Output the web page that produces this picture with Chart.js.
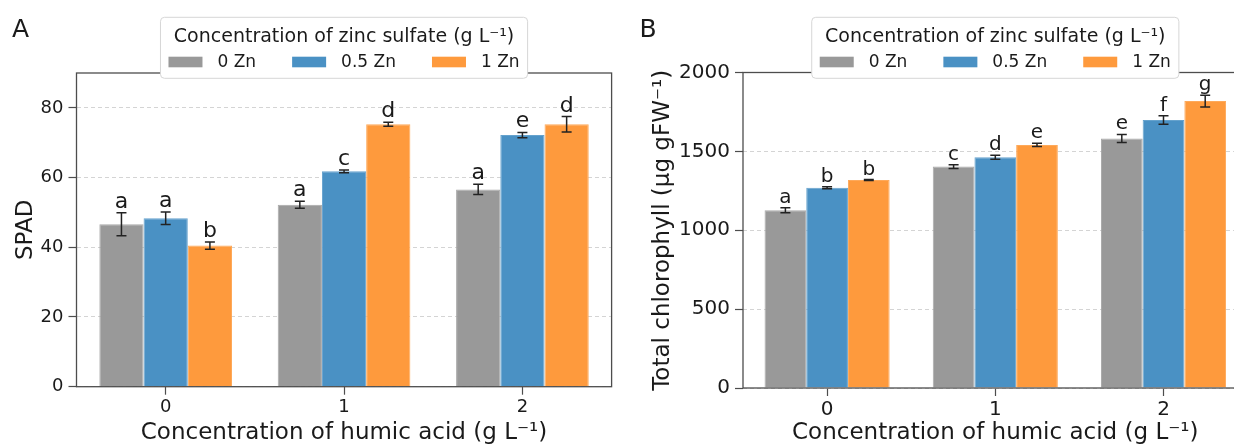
<!DOCTYPE html>
<html>
<head>
<meta charset="utf-8">
<script src="https://cdn.jsdelivr.net/npm/chart.js@4.4.1/dist/chart.umd.min.js"></script>
<style>
  html, body { margin: 0; padding: 0; background: #fff; overflow: hidden; }
  body { width: 1234px; height: 446px; position: relative; }
  .panel { position: absolute; top: 0; }
</style>
</head>
<body>
<div class="panel" style="left:0px"><canvas id="spadChart" width="617" height="446"></canvas></div>
<div class="panel" style="left:617px"><canvas id="chlChart" width="640" height="446"></canvas></div>
<script>
// humic acid levels (x categories) and zinc sulfate series
const humicLevels = ['0', '1', '2'];
const zincLabels = ['0 Zn', '0.5 Zn', '1 Zn'];
const zincColors = ['#999999', '#4a91c4', '#fe9a3d'];
const zincEdges = ['#a8a8a8', '#65a2cd', '#fea95a'];
const legendTitle = 'Concentration of zinc sulfate (g L\u207B\u00B9)';
const xTitle = 'Concentration of humic acid (g L\u207B\u00B9)';

// panel A: SPAD
const spad0Zn = [46.6, 52.2, 56.6];
const spad05Zn = [48.3, 61.8, 72.2];
const spad1Zn = [40.5, 75.3, 75.3];
const spadErr0Zn = [3.3, 1.0, 1.45];
const spadErr05Zn = [1.8, 0.4, 0.75];
const spadErr1Zn = [1.05, 0.6, 2.2];
const spadLetters0Zn = ['a', 'a', 'a'];
const spadLetters05Zn = ['a', 'c', 'e'];
const spadLetters1Zn = ['b', 'd', 'd'];
const spadTicks = [0, 20, 40, 60, 80];

// panel B: total chlorophyll
const chl0Zn = [1127, 1404, 1582];
const chl05Zn = [1269, 1463, 1699];
const chl1Zn = [1318, 1541, 1819];
const chlErr0Zn = [16, 12, 25];
const chlErr05Zn = [6, 13, 27];
const chlErr1Zn = [3, 10, 37];
const chlLetters0Zn = ['a', 'c', 'e'];
const chlLetters05Zn = ['b', 'd', 'f'];
const chlLetters1Zn = ['b', 'e', 'g'];
const chlTicks = [0, 500, 1000, 1500, 2000];

const FONT = "'DejaVu Sans'";
const TEXT = '#1a1a1a';
const AXIS = '#4d4d4d';

// frame, error bars and significance letters
const errorBarPlugin = {
    id: 'errorBars',
    afterDatasetsDraw(chart, args, opts) {
        const ctx = chart.ctx;
        const area = chart.chartArea;
        const yScale = chart.scales.y;

        ctx.save();
        ctx.strokeStyle = AXIS;
        ctx.lineWidth = 1.3;
        ctx.strokeRect(area.left, area.top, area.right - area.left, area.bottom - area.top);
        ctx.restore();

        ctx.save();
        ctx.font = opts.letterSize + 'px ' + FONT;
        ctx.fillStyle = TEXT;
        ctx.textAlign = 'center';
        ctx.textBaseline = 'alphabetic';
        chart.data.datasets.forEach((ds, di) => {
            const meta = chart.getDatasetMeta(di);
            meta.data.forEach((bar, i) => {
                const v = ds.data[i];
                const e = ds.errors[i];
                const yHi = yScale.getPixelForValue(v + e);
                const yLo = yScale.getPixelForValue(v - e);
                ctx.strokeStyle = '#222';
                ctx.lineWidth = 1.5;
                ctx.beginPath();
                ctx.moveTo(bar.x, yHi);
                ctx.lineTo(bar.x, yLo);
                ctx.moveTo(bar.x - 5, yHi);
                ctx.lineTo(bar.x + 5, yHi);
                ctx.moveTo(bar.x - 5, yLo);
                ctx.lineTo(bar.x + 5, yLo);
                ctx.stroke();
                ctx.fillText(ds.letters[i], bar.x, yHi - 5);
            });
        });
        ctx.restore();
    }
};

// legend box overlapping the top of the axes, plus the panel letter
const zincLegendPlugin = {
    id: 'zincLegend',
    afterDraw(chart, args, opts) {
        const ctx = chart.ctx;
        const area = chart.chartArea;
        const sw = 34, swH = 10.6, swGap = 15, colGap = 36, pad = 8;

        ctx.save();
        ctx.font = '19px ' + FONT;
        const titleW = ctx.measureText(legendTitle).width;
        ctx.font = '17px ' + FONT;
        const labelW = zincLabels.map(t => ctx.measureText(t).width);
        let itemsW = colGap * (zincLabels.length - 1);
        labelW.forEach(w => { itemsW += sw + swGap + w; });
        const innerW = Math.max(titleW, itemsW);
        const gap = colGap + (innerW - itemsW) / (zincLabels.length - 1);
        const boxW = innerW + 2 * pad;
        const boxH = 61;
        const x0 = (area.left + area.right) / 2 - boxW / 2;
        const y0 = 17.3;

        ctx.beginPath();
        ctx.roundRect(x0, y0, boxW, boxH, 4);
        ctx.fillStyle = '#ffffff';
        ctx.fill();
        ctx.strokeStyle = '#d6d6d6';
        ctx.lineWidth = 1;
        ctx.stroke();

        ctx.fillStyle = TEXT;
        ctx.textBaseline = 'alphabetic';
        ctx.textAlign = 'left';
        ctx.font = '19px ' + FONT;
        ctx.fillText(legendTitle, x0 + pad + (innerW - titleW) / 2, y0 + 24.4);

        ctx.font = '17px ' + FONT;
        let x = x0 + pad;
        zincLabels.forEach((lab, i) => {
            ctx.fillStyle = chart.data.datasets[i].backgroundColor;
            ctx.fillRect(x, y0 + 39.4, sw, swH);
            ctx.fillStyle = TEXT;
            ctx.fillText(lab, x + sw + swGap, y0 + 50);
            x += sw + swGap + labelW[i] + gap;
        });

        ctx.font = '25px ' + FONT;
        ctx.fillText(opts.letter, opts.letterX, 36.7);
        ctx.restore();
    }
};

function makeDatasets(values, errors, letters) {
    return zincLabels.map((lab, i) => ({
        label: lab,
        data: values[i],
        errors: errors[i],
        letters: letters[i],
        backgroundColor: zincColors[i],
        borderColor: zincEdges[i],
        borderWidth: 1,
        categoryPercentage: 0.7438,
        barPercentage: 1
    }));
}

function makeChart(canvasId, cfg) {
    return new Chart(document.getElementById(canvasId), {
        type: 'bar',
        data: {
            labels: humicLevels,
            datasets: makeDatasets(cfg.values, cfg.errors, cfg.letters)
        },
        plugins: [errorBarPlugin, zincLegendPlugin],
        options: {
            responsive: false,
            animation: false,
            devicePixelRatio: 1,
            layout: { padding: { left: 0, right: cfg.padRight, top: cfg.padTop, bottom: 0 } },
            plugins: {
                legend: { display: false },
                tooltip: { enabled: false },
                errorBars: { letterSize: cfg.letterSize },
                zincLegend: { letter: cfg.panel, letterX: cfg.panelX }
            },
            scales: {
                x: {
                    grid: { drawOnChartArea: false, offset: false, tickLength: 8, tickColor: AXIS, tickWidth: 1.2 },
                    border: { display: false },
                    ticks: { font: { family: FONT, size: cfg.tickSize }, color: TEXT, padding: 2 },
                    title: {
                        display: true, text: xTitle, color: TEXT,
                        font: { family: FONT, size: 23, lineHeight: 1 },
                        padding: { top: 0, bottom: 1 }
                    },
                    afterFit(s) { s.height = cfg.xHeight; }
                },
                y: {
                    min: 0,
                    max: cfg.yMax,
                    afterBuildTicks(s) { s.ticks = cfg.ticks.map(v => ({ value: v })); },
                    grid: { color: '#cfcfcf', lineWidth: 0.9, tickLength: 8, tickColor: AXIS, tickWidth: 1.2 },
                    border: { display: false, dash: [4, 3] },
                    ticks: {
                        font: { family: FONT, size: cfg.tickSize }, color: TEXT, padding: 5,
                        callback: v => String(v)
                    },
                    title: {
                        display: true, text: cfg.yTitle, color: TEXT,
                        font: { family: FONT, size: 23, lineHeight: 1 },
                        padding: { top: cfg.yTitlePad, bottom: 0 }
                    },
                    afterFit(s) { s.width = cfg.yWidth; }
                }
            }
        }
    });
}

makeChart('spadChart', {
    values: [spad0Zn, spad05Zn, spad1Zn],
    errors: [spadErr0Zn, spadErr05Zn, spadErr1Zn],
    letters: [spadLetters0Zn, spadLetters05Zn, spadLetters1Zn],
    ticks: spadTicks,
    yMax: 90,
    yTitle: 'SPAD',
    yTitlePad: 14.5,
    yWidth: 76.5,
    xHeight: 59.3,
    padTop: 73,
    padRight: 5.4,
    tickSize: 18,
    letterSize: 22,
    panel: 'A',
    panelX: 12
});

makeChart('chlChart', {
    values: [chl0Zn, chl05Zn, chl1Zn],
    errors: [chlErr0Zn, chlErr05Zn, chlErr1Zn],
    letters: [chlLetters0Zn, chlLetters05Zn, chlLetters1Zn],
    ticks: chlTicks,
    yMax: 2000,
    yTitle: 'Total chlorophyll (\u00B5g gFW\u207B\u00B9)',
    yTitlePad: 34.5,
    yWidth: 126,
    xHeight: 58,
    padTop: 72.5,
    padRight: 9.4,
    tickSize: 20,
    letterSize: 20,
    panel: 'B',
    panelX: 22.5
});
</script>
</body>
</html>
